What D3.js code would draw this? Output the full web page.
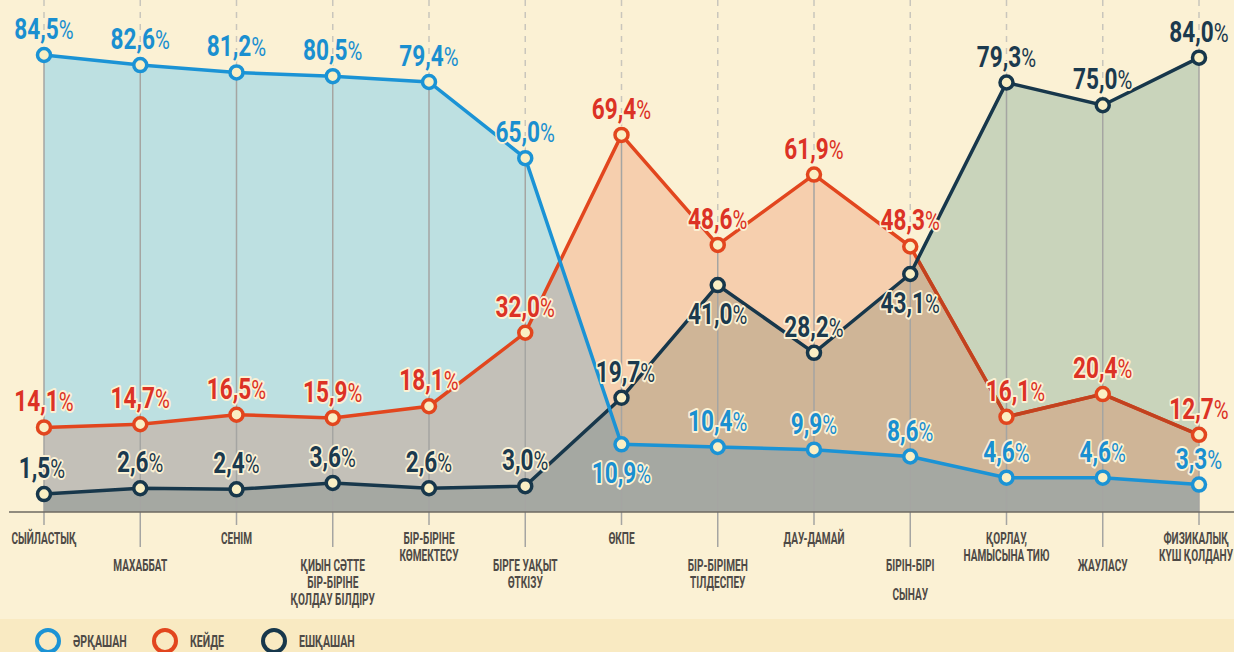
<!DOCTYPE html>
<html lang="kk">
<head>
    <meta charset="UTF-8">
    <script src="https://d3js.org/d3.v7.min.js"></script>
    <style>
        body {
            margin: 0;
            background: #fbf1d4;
        }

        svg {
            display: block;
        }

        .val {
            font-family: Roboto, "DejaVu Sans Condensed", sans-serif;
            font-weight: bold;
            font-size: 29px;
            paint-order: stroke;
            stroke: #fbf1d4;
            stroke-width: 4px;
            stroke-linejoin: round;
        }

        .val .pct {
            font-weight: normal;
            font-size: 26px;
        }

        .cat, .leg {
            font-family: Roboto, "DejaVu Sans Condensed", sans-serif;
            font-weight: bold;
            font-size: 16px;
            fill: #4e4a46;
        }
    </style>
    <title>Chart</title>
</head>
<body>
<svg id="chart"></svg>
<script>
    // санаттар (категориялар)
    var categories = [
        ["СЫЙЛАСТЫҚ"], ["МАХАББАТ"], ["СЕНІМ"],
        ["ҚИЫН СӘТТЕ", "БІР-БІРІНЕ", "ҚОЛДАУ БІЛДІРУ"],
        ["БІР-БІРІНЕ", "КӨМЕКТЕСУ"], ["БІРГЕ УАҚЫТ", "ӨТКІЗУ"], ["ӨКПЕ"],
        ["БІР-БІРІМЕН", "ТІЛДЕСПЕУ"], ["ДАУ-ДАМАЙ"], ["БІРІН-БІРІ", "СЫНАУ"],
        ["ҚОРЛАУ,", "НАМЫСЫНА ТИЮ"], ["ЖАУЛАСУ"], ["ФИЗИКАЛЫҚ", "КҮШ ҚОЛДАНУ"]
    ]
    var always = [84.5, 82.6, 81.2, 80.5, 79.4, 65.0, 10.9, 10.4, 9.9, 8.6, 4.6, 4.6, 3.3]
    var sometimes = [14.1, 14.7, 16.5, 15.9, 18.1, 32.0, 69.4, 48.6, 61.9, 48.3, 16.1, 20.4, 12.7]
    var never = [1.5, 2.6, 2.4, 3.6, 2.6, 3.0, 19.7, 41.0, 28.2, 43.1, 79.3, 75.0, 84.0]
    var seriesNames = ["ӘРҚАШАН", "КЕЙДЕ", "ЕШҚАШАН"]

    var width = 1234, height = 652
    var cream = "#fbf1d4"
    var blue = "#1b93d5", orange = "#e2461e", dark = "#17374b"
    var base = 512

    var svg = d3.select("#chart").attr("width", width).attr("height", height)

    var x = d3.scalePoint().domain(d3.range(categories.length)).range([44, 1199])
    var y = d3.scaleLinear().domain([0, 84.5]).range([502, 55])

    var series = [
        {key: "b", values: always, color: blue, solo: "#bde0e1", labelColor: "#1a8fd0"},
        {key: "o", values: sometimes, color: orange, solo: "#f6cfae", labelColor: "#dc3225"},
        {key: "d", values: never, color: dark, solo: "#c9d4bb", labelColor: "#1b3a4e"}
    ]

    var area = function (vals) {
        return d3.area().x(function (d, i) { return x(i) }).y0(base).y1(function (d) { return y(d) })(vals)
    }
    var line = function (vals) {
        return d3.line().x(function (d, i) { return x(i) }).y(function (d) { return y(d) })(vals)
    }
    // тар қаріп жоқ, сондықтан мәтінді көлденең сығамыз
    var squeeze = function (tx, ty, k) {
        return "translate(" + tx + "," + ty + ") scale(" + k + ",1)"
    }

    svg.append("rect").attr("width", width).attr("height", height).attr("fill", cream)
    svg.append("rect").attr("y", 619).attr("width", width).attr("height", height - 619).attr("fill", "#f9eac2")

    var defs = svg.append("defs")
    series.forEach(function (s) {
        defs.append("clipPath").attr("id", "clip-" + s.key)
            .append("path").attr("d", area(s.values))
    })

    // пунктир сызықтары (жоғары бөлік)
    var tops = categories.map(function (c, i) {
        return y(Math.max(always[i], sometimes[i], never[i]))
    })
    svg.append("g").selectAll("line").data(tops).enter().append("line")
        .attr("x1", function (d, i) { return x(i) }).attr("x2", function (d, i) { return x(i) })
        .attr("y1", 0).attr("y2", function (d) { return d })
        .attr("stroke", "#c9c6bc").attr("stroke-width", 1.5).attr("stroke-dasharray", "6,6")

    // аудандар
    var ga = svg.append("g")
    series.forEach(function (s) {
        ga.append("path").attr("d", area(s.values)).attr("fill", s.solo)
    })
    ga.append("path").attr("d", area(sometimes)).attr("fill", "#c3c0b8").attr("clip-path", "url(#clip-b)")
    ga.append("path").attr("d", area(never)).attr("fill", "#cfb597").attr("clip-path", "url(#clip-o)")
    ga.append("path").attr("d", area(never)).attr("fill", "#a5a8a2").attr("clip-path", "url(#clip-b)")

    // тік сызықтар
    svg.append("g").selectAll("line").data(tops).enter().append("line")
        .attr("x1", function (d, i) { return x(i) }).attr("x2", function (d, i) { return x(i) })
        .attr("y1", function (d) { return d })
        .attr("y2", function (d, i) { return i % 2 == 0 ? 525 : 547 })
        .attr("stroke", "#a5a5a2").attr("stroke-width", 1.5)

    svg.append("line").attr("x1", 9).attr("x2", width).attr("y1", base).attr("y2", base)
        .attr("stroke", "#6e6a62").attr("stroke-width", 1.5)

    // сызықтар
    svg.append("path").attr("d", line(sometimes)).attr("fill", "none").attr("stroke", orange).attr("stroke-width", 3.5)
    svg.append("path").attr("d", line(sometimes)).attr("fill", "none").attr("stroke", "#c2421f").attr("stroke-width", 3.5)
        .attr("clip-path", "url(#clip-d)")
    svg.append("path").attr("d", line(never)).attr("fill", "none").attr("stroke", dark).attr("stroke-width", 3.5)
    svg.append("path").attr("d", line(always)).attr("fill", "none").attr("stroke", blue).attr("stroke-width", 3.5)

    // маркерлер
    series.forEach(function (s) {
        svg.append("g").selectAll("circle").data(s.values).enter().append("circle")
            .attr("cx", function (d, i) { return x(i) }).attr("cy", function (d) { return y(d) })
            .attr("r", 6.5).attr("fill", "#faefc4").attr("stroke", s.color).attr("stroke-width", 3.5)
    })

    // жазулар орны: төмен қойылатындар және ығысулар
    var below = {b: [6], o: [], d: [7, 9]}
    var shiftX = {o: {10: 9}, d: {6: 4, 0: -2}}
    var fmt = function (v) { return d3.format(".1f")(v).replace(".", ",") }

    series.forEach(function (s) {
        var t = svg.append("g").selectAll("text").data(s.values).enter().append("text")
            .attr("class", "val")
            .attr("fill", s.labelColor)
            .attr("text-anchor", "middle")
            .attr("transform", function (d, i) {
                var tx = x(i) + ((shiftX[s.key] || {})[i] || 0)
                var ty = y(d) + (below[s.key].indexOf(i) >= 0 ? 39 : -16)
                return squeeze(tx, ty, 0.78)
            })
        t.append("tspan").text(function (d) { return fmt(d) })
        t.append("tspan").attr("class", "pct").text("%")
    })

    // санат атаулары
    var lineGap = {9: 29}
    var gc = svg.append("g").selectAll("text").data(categories).enter().append("text")
        .attr("class", "cat").attr("text-anchor", "middle")
        .attr("transform", function (d, i) {
            var tx = i == categories.length - 1 ? x(i) - 3 : x(i)
            return squeeze(tx, i % 2 == 0 ? 544 : 571, 0.63)
        })
    gc.selectAll("tspan").data(function (d, i) {
        return d.map(function (t) { return {t: t, gap: lineGap[i] || 17} })
    }).enter().append("tspan")
        .attr("x", 0)
        .attr("dy", function (d, j) { return j == 0 ? 0 : d.gap })
        .text(function (d) { return d.t })

    // аңыз (legend)
    var legX = [48, 165, 274]
    var lg = svg.append("g").selectAll("g").data(series).enter().append("g")
        .attr("transform", function (d, i) { return "translate(" + legX[i] + ",641)" })
    lg.append("circle").attr("r", 11).attr("fill", "none").attr("stroke", function (d) { return d.color })
        .attr("stroke-width", 4)
    lg.append("text").attr("class", "leg").attr("transform", squeeze(25, 6, 0.66))
        .text(function (d, i) { return seriesNames[i] })
</script>
</body>
</html>
